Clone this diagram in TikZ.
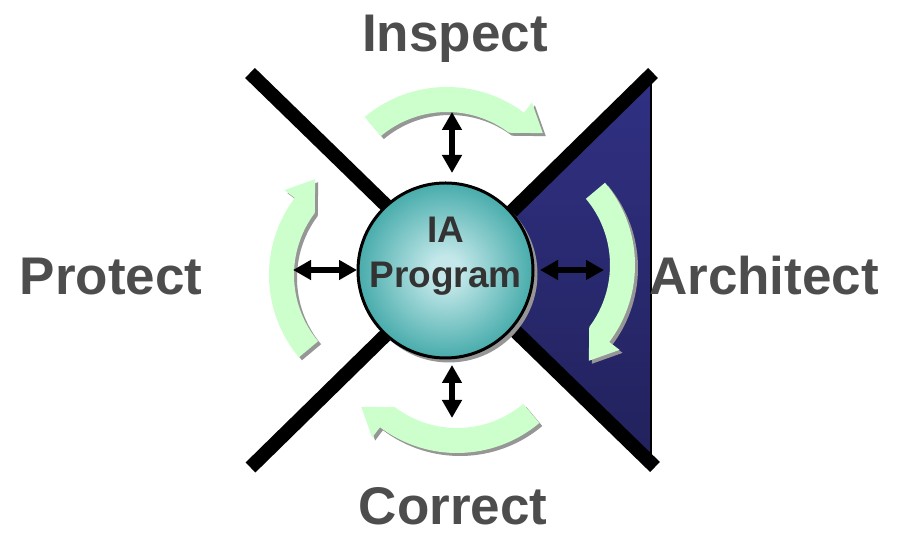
\documentclass[tikz,border=0pt]{standalone}
\usepackage{fontspec}
\setmainfont{Liberation Sans}
\usetikzlibrary{arrows.meta}

\definecolor{labelgray}{RGB}{77,77,77}
\definecolor{iagray}{RGB}{51,51,51}
\definecolor{flowgreen}{RGB}{204,255,204}
\definecolor{flowshadow}{RGB}{150,150,150}
\definecolor{navytop}{RGB}{56,56,152}
\definecolor{navybot}{RGB}{26,26,72}
\definecolor{ballhi}{RGB}{196,232,234}
\definecolor{ballmid}{RGB}{30,152,150}
\definecolor{balledge}{RGB}{18,128,128}

\pgfdeclareverticalshading{navyfade}{100bp}{color(0bp)=(navybot); color(100bp)=(navytop)}
\pgfdeclareradialshading{tealball}{\pgfpoint{0bp}{0bp}}{color(0bp)=(ballhi); color(4bp)=(ballhi); color(32bp)=(ballmid); color(50bp)=(balledge)}

\tikzset{
  thickbar/.style={line width=14pt, line cap=butt},
  edgeline/.style={line width=2.5pt, black},
  flowband/.style={insert path={(130:103) arc[start angle=130,end angle=53,radius=103]
      -- (40.5:126) -- (53:141) -- (53:128) arc[start angle=53,end angle=130,radius=128] -- cycle}},
  linkarrow/.style={line width=5.5pt, {Triangle[length=18pt,width=19pt]}-{Triangle[length=18pt,width=19pt]}},
  ball/.style={circle, draw=black, line width=3pt, minimum size=175pt, inner sep=0pt, shading=tealball},
  phase/.style={font=\fontsize{53}{60}\selectfont\bfseries, text=labelgray, inner sep=0pt, anchor=base},
  iatext/.style={font=\fontsize{37}{44}\selectfont\bfseries, text=iagray, inner sep=0pt, anchor=base},
}

\begin{document}
\begin{tikzpicture}[x=1pt, y=1pt]
  \useasboundingbox (0,0) rectangle (898,534);
  \fill[white] (0,0) rectangle (898,534);

  % corner points of the X
  \coordinate (xul) at (250,461);
  \coordinate (xlr) at (655,67);
  \coordinate (xll) at (250.5,66.5);
  \coordinate (xur) at (653,461);
  \coordinate (hub) at (452,264);
  \coordinate (wedgetop) at (651,459);
  \coordinate (wedgebot) at (651,71);

  % shaded wedge on the right
  \shade[shading=navyfade] (hub) -- (wedgetop) -- (wedgebot) -- cycle;
  \draw[edgeline] (wedgetop) -- (wedgebot);

  % the two crossing bars
  \draw[thickbar] (xul) -- (xlr);
  \draw[thickbar] (xll) -- (xur);

  % curved cycle arrows: shadows first, then the green bands
  \foreach \rot/\cx/\cy in {0/447/319, -90/507/269, -180/457/209, -270/397/259}
    \fill[flowshadow, shift={(\cx+3,\cy-3)}, rotate=\rot, flowband];
  \foreach \rot/\cx/\cy in {0/447/319, -90/507/269, -180/457/209, -270/397/259}
    \fill[flowgreen, shift={(\cx,\cy)}, rotate=\rot, flowband];

  % central program ball
  \fill[flowshadow] (449,260) circle[radius=88.5];
  \node[ball] (ia) at (445.5,263.5) {};
  \node[iatext] (ialine1) at (445.5,291) {IA};
  \node[iatext] (ialine2) at (445.5,246) {Program};

  % two-way links between the ball and each phase
  \coordinate (inspTip) at (452,422);
  \coordinate (inspBase) at (452,361);
  \coordinate (corrBase) at (452,169);
  \coordinate (corrTip) at (452,116);
  \coordinate (protTip) at (293,264);
  \coordinate (protBase) at (357,264);
  \coordinate (archBase) at (540,264);
  \coordinate (archTip) at (604,264);
  \draw[linkarrow] (inspBase) -- (inspTip);
  \draw[linkarrow] (corrBase) -- (corrTip);
  \draw[linkarrow] (protBase) -- (protTip);
  \draw[linkarrow] (archBase) -- (archTip);

  % phase labels
  \node[phase] (inspect) at (455,482.3) {Inspect};
  \node[phase] (correct) at (453,9) {Correct};
  \node[phase] (protect) at (111,239) {Protect};
  \node[phase] (architect) at (764,239) {Architect};
\end{tikzpicture}
\end{document}
